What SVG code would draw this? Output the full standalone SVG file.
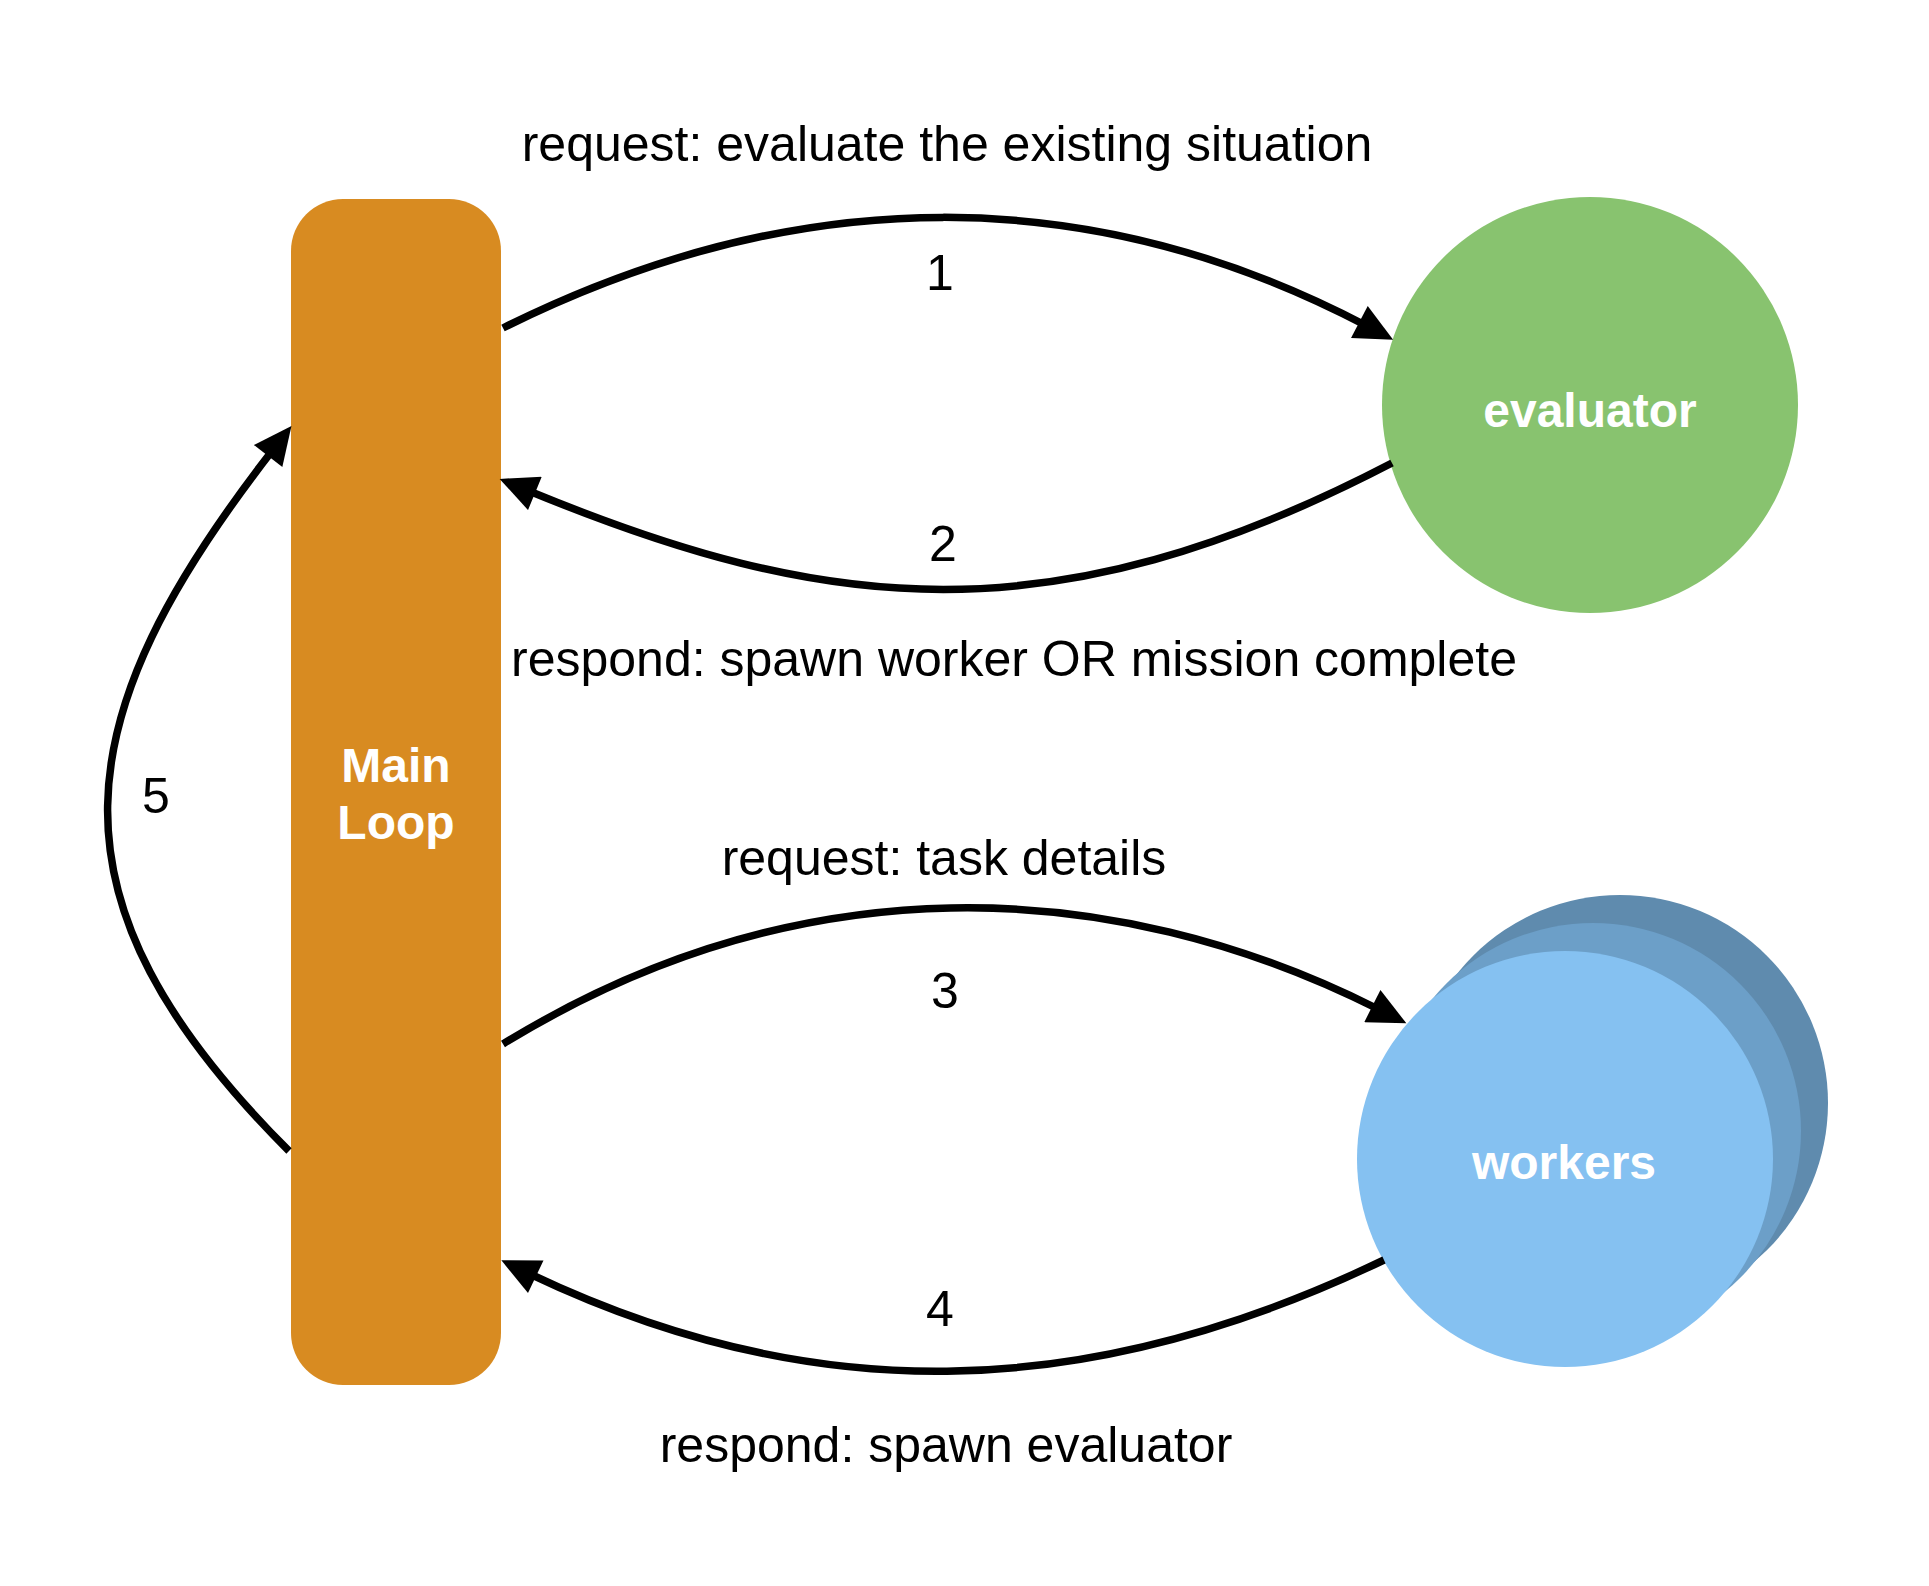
<svg xmlns="http://www.w3.org/2000/svg" width="1929" height="1586" viewBox="0 0 1929 1586">
<style>
.lbl{font-family:"Liberation Sans",Arial,sans-serif;font-size:50px;fill:#000;text-anchor:middle}
.nodetxt{font-family:"Liberation Sans",Arial,sans-serif;font-size:48px;font-weight:bold;fill:#fff;text-anchor:middle}
.edge{fill:none;stroke:#000;stroke-width:7.5;marker-end:url(#arrow)}
</style>
<defs>
<marker id="arrow" markerUnits="userSpaceOnUse" markerWidth="40" markerHeight="36" viewBox="0 0 36 34" refX="6" refY="17" orient="auto">
<path d="M0,0 L36,17 L0,34 z" fill="#000"/>
</marker>
</defs>
<rect width="1929" height="1586" fill="#fff"/>
<g id="main-loop">
<rect x="291" y="199" width="210" height="1186" rx="52" ry="52" fill="#d88b21"/>
<text class="nodetxt" x="396" y="782">Main</text>
<text class="nodetxt" x="396" y="839">Loop</text>
</g>
<g id="evaluator">
<circle cx="1590" cy="405" r="208" fill="#88c36f"/>
<text class="nodetxt" x="1590" y="427">evaluator</text>
</g>
<g id="workers">
<circle cx="1620" cy="1103" r="208" fill="#5f8bae"/>
<circle cx="1593" cy="1131" r="208" fill="#6c9fc8"/>
<circle cx="1565" cy="1159" r="208" fill="#85c1f1"/>
<text class="nodetxt" x="1564" y="1179">workers</text>
</g>
<g id="connectors">
<path class="edge" d="M503,328 C800,180 1092,182 1365,325"/>
<path class="edge" d="M1392,463 C1050,641 825,613 529,491"/>
<path class="edge" d="M503,1044 C798,863 1110,874 1378,1009"/>
<path class="edge" d="M1384,1260 C1080,1406 807,1406 530,1274"/>
<path class="edge" d="M289,1151 C35,897 65,718 272,451"/>
</g>
<g id="labels">
<text class="lbl" x="947" y="161">request: evaluate the existing situation</text>
<text class="lbl" x="940" y="290">1</text>
<text class="lbl" x="943" y="561">2</text>
<text class="lbl" x="1014" y="676">respond: spawn worker OR mission complete</text>
<text class="lbl" x="944" y="875">request: task details</text>
<text class="lbl" x="945" y="1008">3</text>
<text class="lbl" x="940" y="1326">4</text>
<text class="lbl" x="946" y="1462">respond: spawn evaluator</text>
<text class="lbl" x="156" y="813">5</text>
</g>
</svg>
